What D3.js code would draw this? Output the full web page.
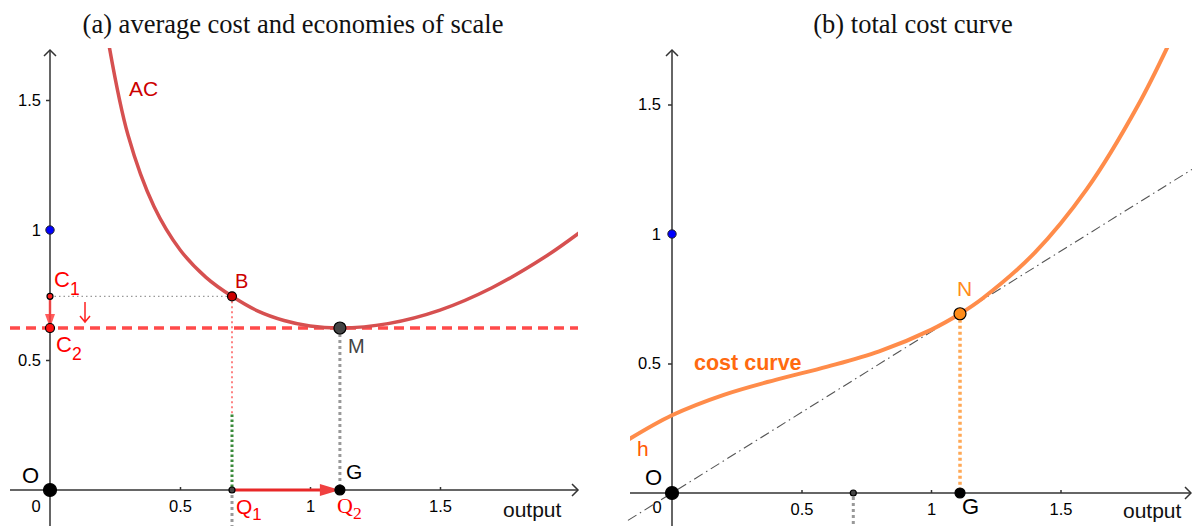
<!DOCTYPE html>
<html>
<head>
<meta charset="utf-8">
<script src="https://cdn.jsdelivr.net/npm/d3@7"></script>
<style>
  html, body { margin: 0; padding: 0; background: #fff; }
  svg { display: block; }
</style>
</head>
<body>
<svg id="chart" width="1192" height="526" font-family="Liberation Sans, Arial, sans-serif"></svg>
<script>
// ---- data -------------------------------------------------------------
// average cost curve (output, average cost)
const acOutput = [0.22, 0.3, 0.4, 0.5, 0.6, 0.7, 0.8, 0.9, 1.0, 1.115, 1.3, 1.5, 1.7, 1.9, 2.05];
const acValue  = [1.75, 1.365, 1.09, 0.924, 0.818, 0.745, 0.688, 0.652, 0.631, 0.623, 0.640, 0.692, 0.778, 0.894, 1.00];

// total cost curve (output, total cost)
const tcOutput = [-0.17, 0, 0.2, 0.4, 0.6, 0.8, 1.0, 1.112, 1.2, 1.4, 1.6, 1.8, 1.95];
const tcValue  = [0.205, 0.300, 0.379, 0.437, 0.488, 0.547, 0.630, 0.692, 0.752, 0.927, 1.171, 1.498, 1.80];

// labelled points
const pointB = [0.7, 0.745];     // AC at Q1
const pointM = [1.115, 0.623];   // minimum average cost
const pointN = [1.112, 0.692];   // tangent point on the cost curve
const unitMark = 1;              // blue marker on the vertical axis
const q1 = 0.7, q2 = 1.115;

const tickValues = [0.5, 1, 1.5];
const tickLabels = ["0.5", "1", "1.5"];
const titles = ["(a) average cost and economies of scale", "(b) total cost curve"];

// ---- setup ------------------------------------------------------------
const svg = d3.select("#chart");
const AXIS = "#333";
const SANS = "Liberation Sans, Arial, sans-serif";
const SERIF = "Liberation Serif, Times New Roman, serif";

const defs = svg.append("defs");
defs.append("clipPath").attr("id", "clipL").append("rect")
  .attr("x", 0).attr("y", 48).attr("width", 578).attr("height", 478);
defs.append("clipPath").attr("id", "clipR").append("rect")
  .attr("x", 630).attr("y", 48).attr("width", 562).attr("height", 478);

// equal-aspect scales for both panels
const xL = d3.scaleLinear().domain([0, 1]).range([50, 310]);
const yL = d3.scaleLinear().domain([0, 1]).range([490, 230]);
const xR = d3.scaleLinear().domain([0, 1]).range([672, 931]);
const yR = d3.scaleLinear().domain([0, 1]).range([493, 234]);

function axes(g, x, y, xMin, xMax, yTop, yBottom, zeroPos, yPad) {
  const x0 = x(0), y0 = y(0);
  // x axis
  g.append("line").attr("x1", xMin).attr("x2", xMax).attr("y1", y0).attr("y2", y0)
    .attr("stroke", AXIS).attr("stroke-width", 1.5);
  g.append("path").attr("d", `M${xMax - 6},${y0 - 6}L${xMax},${y0}L${xMax - 6},${y0 + 6}`)
    .attr("fill", "none").attr("stroke", AXIS).attr("stroke-width", 1.5);
  // y axis
  g.append("line").attr("x1", x0).attr("x2", x0).attr("y1", yTop).attr("y2", yBottom)
    .attr("stroke", AXIS).attr("stroke-width", 1.5);
  g.append("path").attr("d", `M${x0 - 6},${yTop + 6}L${x0},${yTop}L${x0 + 6},${yTop + 6}`)
    .attr("fill", "none").attr("stroke", AXIS).attr("stroke-width", 1.5);

  const fmt = d => tickLabels[tickValues.indexOf(d)];
  const gx = g.append("g").attr("transform", `translate(0,${y0})`)
    .call(d3.axisBottom(x).tickValues(tickValues).tickFormat(fmt).tickSize(-3).tickPadding(10));
  const gy = g.append("g").attr("transform", `translate(${x0},0)`)
    .call(d3.axisLeft(y).tickValues(tickValues).tickFormat(fmt).tickSize(4).tickPadding(yPad));
  [gx, gy].forEach(a => {
    a.attr("font-size", 16.5).attr("font-family", SANS);
    a.select(".domain").remove();
    a.selectAll(".tick line").attr("stroke", AXIS).attr("stroke-width", 1.5);
    a.selectAll("text").attr("fill", "#000");
  });
  g.append("text").attr("x", zeroPos[0]).attr("y", zeroPos[1]).attr("text-anchor", "middle")
    .attr("font-size", 16.5).text("0");
}

function dot(g, cx, cy, r, fill, stroke = "#000", sw = 1.2) {
  g.append("circle").attr("cx", cx).attr("cy", cy).attr("r", r)
    .attr("fill", fill).attr("stroke", stroke).attr("stroke-width", sw);
}

function label(g, x, y, txt, color, size = 21, sub = null, opts = {}) {
  const t = g.append("text").attr("x", x).attr("y", y).attr("fill", color)
    .attr("font-size", size).attr("font-family", opts.family || SANS);
  if (opts.weight) t.attr("font-weight", opts.weight);
  t.append("tspan").text(txt);
  if (sub !== null) t.append("tspan").attr("dy", opts.subDy || 8).attr("font-size", size * 0.8).text(sub);
  return t;
}

// ---- titles -----------------------------------------------------------
svg.append("text").attr("x", 293).attr("y", 33).attr("text-anchor", "middle")
  .attr("font-family", SERIF).attr("font-size", 26.5)
  .attr("fill", "#111").text(titles[0]);
svg.append("text").attr("x", 913).attr("y", 33).attr("text-anchor", "middle")
  .attr("font-family", SERIF).attr("font-size", 26.5)
  .attr("fill", "#111").text(titles[1]);

// ======================= panel (a) ====================================
const gL = svg.append("g");
axes(gL, xL, yL, 10, 578, 50, 526, [36, 512], 5);

const line = (x, y) => d3.line().x(d => x(d[0])).y(d => y(d[1])).curve(d3.curveCatmullRom.alpha(0.5));

// guide lines
gL.append("line").attr("x1", xL(0)).attr("x2", xL(pointB[0])).attr("y1", yL(pointB[1])).attr("y2", yL(pointB[1]))
  .attr("stroke", "#999").attr("stroke-width", 1.2).attr("stroke-dasharray", "1.5,3");
gL.append("line").attr("x1", xL(q1)).attr("x2", xL(q1)).attr("y1", yL(pointB[1])).attr("y2", yL(0.29))
  .attr("stroke", "#ff3030").attr("stroke-width", 1.2).attr("stroke-dasharray", "2,3");
gL.append("line").attr("x1", xL(q1)).attr("x2", xL(q1)).attr("y1", yL(0.29)).attr("y2", yL(0))
  .attr("stroke", "#3a8a3a").attr("stroke-width", 3).attr("stroke-dasharray", "2.5,2.5");
gL.append("line").attr("x1", xL(q1)).attr("x2", xL(q1)).attr("y1", yL(0) + 5).attr("y2", 526)
  .attr("stroke", "#999").attr("stroke-width", 3).attr("stroke-dasharray", "3,3");
gL.append("line").attr("x1", xL(pointM[0])).attr("x2", xL(pointM[0])).attr("y1", yL(pointM[1])).attr("y2", yL(0))
  .attr("stroke", "#999").attr("stroke-width", 3).attr("stroke-dasharray", "3,3");

// minimum average cost level
gL.append("line").attr("x1", 10).attr("x2", 578).attr("y1", yL(pointM[1])).attr("y2", yL(pointM[1]))
  .attr("stroke", "#ff4a4a").attr("stroke-width", 3.5).attr("stroke-dasharray", "10,6");

// AC curve
gL.append("path").datum(acOutput.map((q, i) => [q, acValue[i]]))
  .attr("clip-path", "url(#clipL)")
  .attr("d", line(xL, yL)).attr("fill", "none")
  .attr("stroke", "#d65050").attr("stroke-width", 3.5);

// arrow C1 -> C2
{
  const x = xL(0), ya = yL(pointB[1]), yb = yL(pointM[1]);
  gL.append("line").attr("x1", x).attr("x2", x).attr("y1", ya).attr("y2", yb - 12)
    .attr("stroke", "#ff4040").attr("stroke-opacity", 0.85).attr("stroke-width", 2.5);
  gL.append("path").attr("d", `M${x - 5},${yb - 14}L${x},${yb}L${x + 5},${yb - 14}Z`)
    .attr("fill", "#ff4040").attr("fill-opacity", 0.85);
}
// small downward cue beside the C1 -> C2 drop
gL.append("path").attr("d", "M85,302L85,322M80,316L85,322L90,316")
  .attr("fill", "none").attr("stroke", "#ff2020").attr("stroke-width", 1.5);

// arrow Q1 -> Q2
{
  const y = yL(0), xa = xL(q1), xb = xL(q2);
  gL.append("line").attr("x1", xa).attr("x2", xb - 18).attr("y1", y).attr("y2", y)
    .attr("stroke", "#e82828").attr("stroke-width", 3);
  gL.append("path").attr("d", `M${xb - 20},${y - 6}L${xb},${y}L${xb - 20},${y + 6}Z`)
    .attr("fill", "#f04040");
}

// points
dot(gL, xL(0), yL(unitMark), 4.2, "#0000ff", "#222", 1);
dot(gL, xL(0), yL(pointB[1]), 3, "#ff2020");
dot(gL, xL(0), yL(pointM[1]), 4.5, "#ff1010");
dot(gL, xL(pointB[0]), yL(pointB[1]), 4.5, "#cc0000");
dot(gL, xL(pointM[0]), yL(pointM[1]), 6, "#444");
dot(gL, xL(0), yL(0), 6.5, "#000");
dot(gL, xL(q1), yL(0), 3, "#444");
dot(gL, xL(q2), yL(0), 5, "#000");

// labels
label(gL, 129, 96, "AC", "#cc0000", 21);
label(gL, 54, 287, "C", "#ff0000", 22, "1");
label(gL, 56, 352, "C", "#ff0000", 22, "2");
label(gL, 235, 288, "B", "#cc0000", 20);
label(gL, 348, 353, "M", "#444", 20);
label(gL, 22, 483, "O", "#000", 22);
label(gL, 346, 479, "G", "#000", 21);
label(gL, 236, 514, "Q", "#ff0000", 21, "1", { subDy: 6 });
label(gL, 337, 513, "Q", "#ff0000", 22, "2", { family: SERIF, subDy: 6 });
gL.append("text").attr("x", 503).attr("y", 517).attr("font-size", 21).attr("fill", "#111").text("output");

// ======================= panel (b) ====================================
const gR = svg.append("g");
axes(gR, xR, yR, 630, 1191, 50, 526, [657, 513], 7);

// tangent ray through the origin and N
const slope = pointN[1] / pointN[0];
const rayX = [-0.17, 2.02];
gR.append("line")
  .attr("x1", xR(rayX[0])).attr("y1", yR(rayX[0] * slope))
  .attr("x2", xR(rayX[1])).attr("y2", yR(rayX[1] * slope))
  .attr("stroke", "#555").attr("stroke-width", 1.1).attr("stroke-dasharray", "10,4,1.5,4");

// guide lines
gR.append("line").attr("x1", xR(pointN[0])).attr("x2", xR(pointN[0])).attr("y1", yR(pointN[1])).attr("y2", yR(0))
  .attr("stroke", "#ffa855").attr("stroke-width", 3.5).attr("stroke-dasharray", "3,3");
gR.append("line").attr("x1", xR(q1)).attr("x2", xR(q1)).attr("y1", yR(0) + 4).attr("y2", 526)
  .attr("stroke", "#999").attr("stroke-width", 3).attr("stroke-dasharray", "3,3");

// total cost curve
gR.append("path").datum(tcOutput.map((q, i) => [q, tcValue[i]]))
  .attr("clip-path", "url(#clipR)")
  .attr("d", line(xR, yR)).attr("fill", "none")
  .attr("stroke", "#ff8c4a").attr("stroke-width", 4);

// points
dot(gR, xR(0), yR(unitMark), 4.2, "#0000ff", "#222", 1);
dot(gR, xR(0), yR(0), 6.5, "#000");
dot(gR, xR(q1), yR(0), 3, "#444");
dot(gR, xR(pointN[0]), yR(0), 5, "#000");
dot(gR, xR(pointN[0]), yR(pointN[1]), 6, "#ff8c1a");

// labels
label(gR, 957, 296, "N", "#ff8c1a", 21);
label(gR, 694, 370, "cost curve", "#ff6a10", 21.5, null, { weight: "bold" });
label(gR, 637, 456, "h", "#ff5a00", 21);
label(gR, 645, 485, "O", "#000", 22);
label(gR, 962, 514, "G", "#000", 22);
gR.append("text").attr("x", 1123).attr("y", 518).attr("font-size", 21).attr("fill", "#111").text("output");
</script>
</body>
</html>
